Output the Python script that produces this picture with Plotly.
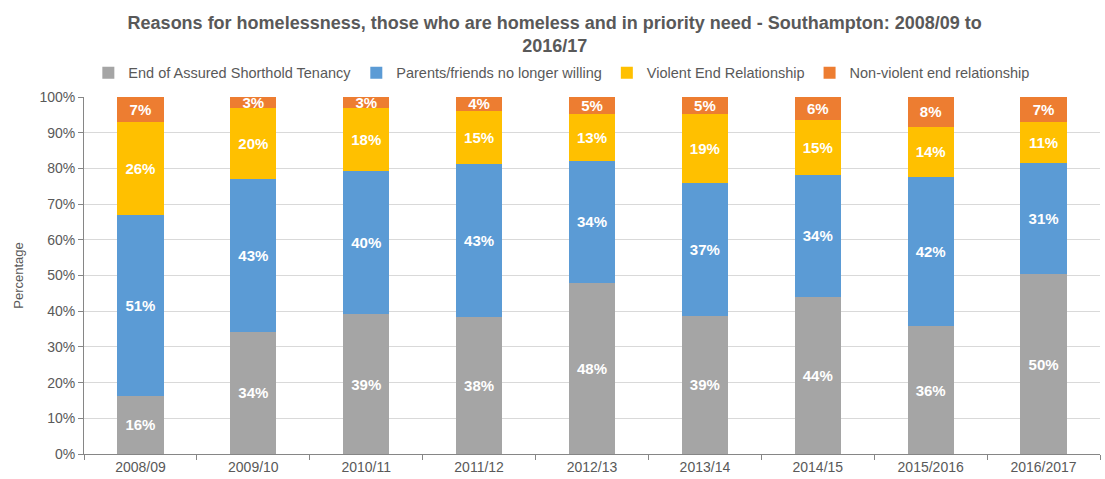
import plotly.graph_objects as go

years = ["2008/09", "2009/10", "2010/11", "2011/12", "2012/13",
         "2013/14", "2014/15", "2015/2016", "2016/2017"]

# Share of homeless households in priority need, by reason (%)
assured_shorthold = [16.3, 34.2, 39.1, 38.3, 47.9, 38.7, 44.0, 35.8, 50.4]
parents_friends = [50.7, 42.9, 40.3, 43.0, 34.2, 37.3, 34.2, 41.7, 31.1]
violent_end = [26.1, 19.7, 17.6, 14.9, 13.2, 19.2, 15.4, 14.2, 11.4]
non_violent_end = [6.9, 3.2, 3.0, 3.8, 4.7, 4.8, 6.4, 8.3, 7.1]

series = [
    ("End of Assured Shorthold Tenancy", assured_shorthold, "#A5A5A5"),
    ("Parents/friends no longer willing", parents_friends, "#5B9BD5"),
    ("Violent End Relationship", violent_end, "#FFC000"),
    ("Non-violent end relationship", non_violent_end, "#ED7D31"),
]

FONT = "Liberation Sans, Arial, sans-serif"
GREY_TEXT = "#595959"

fig = go.Figure()
for name, values, colour in series:
    fig.add_trace(go.Bar(
        name=name,
        x=years,
        y=values,
        marker=dict(color=colour, line=dict(width=0)),
        texttemplate="<b>%{y:.0f}%</b>",
        textposition="inside",
        insidetextanchor="middle",
        constraintext="none",
        textfont=dict(family=FONT, size=15, color="white"),
        hovertemplate="%{x}: %{y:.1f}%<extra>" + name + "</extra>",
    ))

fig.update_layout(
    width=1105,
    height=479,
    barmode="stack",
    bargap=0.59,
    paper_bgcolor="white",
    plot_bgcolor="white",
    margin=dict(l=84, r=5, t=97, b=25, autoexpand=False),
    font=dict(family=FONT, color=GREY_TEXT),
    title=dict(
        text="<b>Reasons for homelessness, those who are homeless and in priority need - Southampton: 2008/09 to<br>2016/17</b>",
        font=dict(family=FONT, size=18, color=GREY_TEXT),
        x=0.502, xref="container", xanchor="center",
        y=0.94, yref="container", yanchor="top",
    ),
    legend=dict(
        orientation="h",
        x=0.508, xref="container", xanchor="center",
        y=0.848, yref="container", yanchor="middle",
        font=dict(family=FONT, size=14.5, color=GREY_TEXT),
        traceorder="normal",
        itemwidth=30,
    ),
)

fig.update_yaxes(
    range=[0, 100],
    dtick=10,
    ticksuffix="%",
    showgrid=True,
    gridcolor="#D9D9D9",
    gridwidth=1,
    showline=True,
    linecolor="#868686",
    linewidth=1,
    ticks="outside",
    ticklen=5,
    tickcolor="#868686",
    tickfont=dict(family=FONT, size=14, color=GREY_TEXT),
    title=dict(text="Percentage", font=dict(family=FONT, size=13, color=GREY_TEXT), standoff=12),
    zeroline=False,
)

fig.update_xaxes(
    showline=True,
    linecolor="#868686",
    linewidth=1,
    ticks="outside",
    tickson="boundaries",
    ticklen=5,
    tickcolor="#868686",
    tickfont=dict(family=FONT, size=14, color=GREY_TEXT),
)

fig.write_html("out.html")
